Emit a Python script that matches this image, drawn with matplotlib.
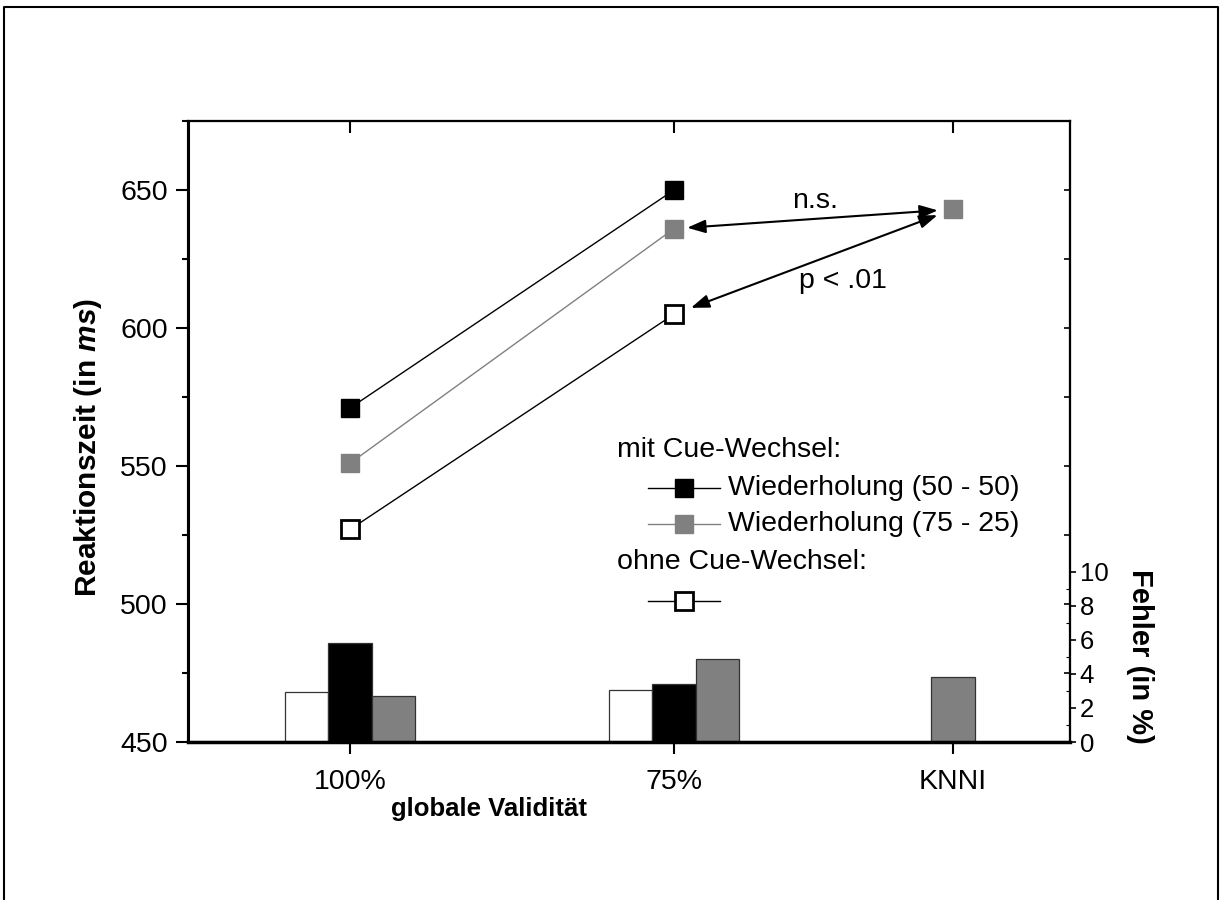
import matplotlib
matplotlib.use("Agg")
import matplotlib.pyplot as plt
from matplotlib.lines import Line2D
from matplotlib.ticker import MultipleLocator, FixedLocator

plt.rcParams["font.family"] = ["Liberation Sans", "DejaVu Sans"]
plt.rcParams["mathtext.fontset"] = "custom"
plt.rcParams["mathtext.it"] = "Liberation Sans:italic:bold"
plt.rcParams["mathtext.rm"] = "Liberation Sans:bold"

# Reaktionszeiten (ms) je globaler Validität
categories = ["100%", "75%", "KNNI"]
rt_rep_5050 = [571, 650]          # mit Cue-Wechsel, Wiederholung (50 - 50)
rt_rep_7525 = [551, 636, 643]     # mit Cue-Wechsel, Wiederholung (75 - 25)
rt_no_switch = [527, 605]         # ohne Cue-Wechsel

# Fehlerraten (%)
err_no_switch = [2.92, 3.04]
err_rep_5050 = [5.8, 3.43]
err_rep_7525 = [2.72, 4.9, 3.8]

GRAY = "#808080"
xpos = [0.0, 1.0, 1.861]
bw = 0.133

fig = plt.figure(figsize=(12.23, 9.0), dpi=100)
ax = fig.add_axes([188 / 1223, 158 / 900, 882 / 1223, 621 / 900])
ax2 = ax.twinx()
ax.set_zorder(ax2.get_zorder() + 1)
ax.patch.set_visible(False)

# error bars (right axis)
ax2.bar([x - bw for x in xpos[:2]], err_no_switch, bw, color="white",
        edgecolor="#333333", lw=0.9)
ax2.bar(xpos[:2], err_rep_5050, bw, color="black", edgecolor="#333333", lw=0.9)
ax2.bar([xpos[0] + bw, xpos[1] + bw], err_rep_7525[:2], bw, color=GRAY,
        edgecolor="#333333", lw=0.9)
ax2.bar(xpos[2], err_rep_7525[2], bw, color=GRAY, edgecolor="#333333", lw=0.9)
ax2.set_ylim(0, 36.5)
ax2.yaxis.set_major_locator(FixedLocator([0, 2, 4, 6, 8, 10]))
ax2.yaxis.set_minor_locator(FixedLocator([1, 3, 5, 7, 9]))
ax2.tick_params(axis="y", which="major", direction="out", length=4, width=1.2,
                labelsize=18.5, pad=3)
ax2.tick_params(axis="y", which="minor", direction="in", length=3, width=0.8)

# reaction time lines (left axis)
mk = dict(marker="s", markersize=13.5)
ax.plot(xpos[:2], rt_rep_5050, color="black", lw=1.0,
        markerfacecolor="black", markeredgecolor="black", **mk)
ax.plot(xpos[:2], rt_rep_7525[:2], color=GRAY, lw=1.0,
        markerfacecolor=GRAY, markeredgecolor=GRAY, **mk)
ax.plot(xpos[2], rt_rep_7525[2], color=GRAY, linestyle="none",
        markerfacecolor=GRAY, markeredgecolor=GRAY, **mk)
ax.plot(xpos[:2], rt_no_switch, color="black", lw=1.0,
        markerfacecolor="white", markeredgecolor="black", markeredgewidth=2, **mk)

# comparison arrows
arrow = dict(arrowstyle="<|-|>,head_length=0.55,head_width=0.2",
             color="black", lw=1.5, mutation_scale=20)
ax.annotate("", xy=(xpos[1], rt_rep_7525[1]), xytext=(xpos[2], rt_rep_7525[2]),
            arrowprops=dict(shrinkA=11, shrinkB=9.5, **arrow))
ax.annotate("", xy=(xpos[1], rt_no_switch[1]), xytext=(xpos[2], rt_rep_7525[2]),
            arrowprops=dict(shrinkA=12, shrinkB=13, **arrow))
ax.text(1.435, 646, "n.s.", fontsize=20.5, ha="center", va="center")
ax.text(1.52, 617, "p < .01", fontsize=20.5, ha="center", va="center")

ax.set_xlim(-0.5, 2.222)
ax.set_ylim(450, 675)
ax.set_xticks(xpos)
ax.set_xticklabels(categories, fontsize=20.5)
ax.yaxis.set_major_locator(FixedLocator([450, 500, 550, 600, 650]))
ax.yaxis.set_minor_locator(MultipleLocator(25))
ax.tick_params(axis="y", which="major", direction="out", length=8.5, width=1.5,
               labelsize=20.5, pad=6)
ax.tick_params(axis="y", which="minor", direction="out", length=4.5, width=1.5)
ax.tick_params(axis="x", direction="out", length=8.5, width=1.5, pad=11)

top = ax.secondary_xaxis("top")
top.set_xticks(xpos)
top.tick_params(direction="in", length=8.5, width=1.5, labeltop=False)
right = ax.secondary_yaxis("right")
right.set_yticks(range(475, 676, 25))
right.tick_params(direction="in", length=4, width=1.2, labelright=False)

for a in (ax, ax2, top, right):
    for s in a.spines.values():
        s.set_linewidth(1.5)
ax.spines["bottom"].set_linewidth(2.5)
ax.spines["left"].set_linewidth(2.2)

ax.text(-0.113, 0.475, r"Reaktionszeit (in $\mathit{ms}$)", transform=ax.transAxes,
        fontsize=21.5, fontweight="bold", rotation=90, ha="center", va="center")
ax.text(0.341, -0.108, "globale Validität", transform=ax.transAxes,
        fontsize=18.5, fontweight="bold", ha="center", va="center")
ax.text(1.079, 0.137, "Fehler (in %)", transform=ax.transAxes, fontsize=21,
        fontweight="bold", rotation=-90, ha="center", va="center")

# legend
tr = ax.transAxes
ax.text(0.486, 0.470, "mit Cue-Wechsel:", transform=tr, fontsize=20.5, va="center")
ax.text(0.486, 0.290, "ohne Cue-Wechsel:", transform=tr, fontsize=20.5, va="center")
rows = [(0.409, "black", "black", "black", "Wiederholung (50 - 50)"),
        (0.351, GRAY, GRAY, GRAY, "Wiederholung (75 - 25)"),
        (0.227, "black", "white", "black", None)]
for y, lc, fc, ec, label in rows:
    ax.add_line(Line2D([0.5215, 0.603], [y, y], transform=tr, color=lc, lw=1.0))
    ax.add_line(Line2D([0.562], [y], transform=tr, marker="s", markersize=13.5,
                       markerfacecolor=fc, markeredgecolor=ec,
                       markeredgewidth=2 if fc == "white" else 1))
    if label:
        ax.text(0.612, y, label, transform=tr, fontsize=20.5, va="center")

# outer frame (open at the bottom)
fx = [4 / 1223, 4 / 1223, 1218 / 1223, 1218 / 1223]
fy = [0.0, 1 - 7 / 900, 1 - 7 / 900, 0.0]
fig.add_artist(Line2D(fx, fy, transform=fig.transFigure, color="black", lw=1.5))

fig.savefig("out.png", dpi=100)
